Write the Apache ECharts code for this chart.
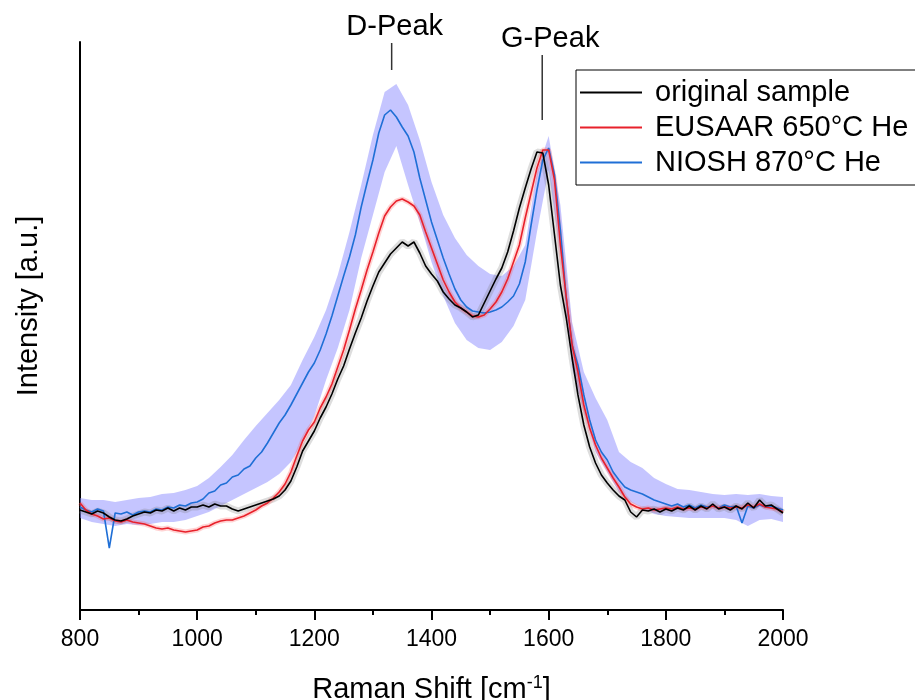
<!DOCTYPE html>
<html><head><meta charset="utf-8">
<script src="https://cdn.jsdelivr.net/npm/echarts@6/dist/echarts.min.js"></script>
<style>html,body{margin:0;padding:0;background:#fff}#c{width:915px;height:700px}</style>
</head><body><div id="c"></div>
<script>
// Raman shift sampling (cm^-1)
const ramanShift = [800,810,820,830,840,850,860,870,880,890,900,910,920,930,940,950,960,970,980,990,
1000,1010,1020,1030,1040,1050,1060,1070,1080,1090,1100,1110,1120,1130,1140,1150,1160,1170,1180,1190,
1200,1210,1220,1230,1240,1250,1260,1270,1280,1290,1300,1310,1320,1330,1340,1350,1360,1370,1380,1390,
1400,1410,1420,1430,1440,1450,1460,1470,1480,1490,1500,1510,1520,1530,1540,1550,1560,1570,1580,1590,
1600,1610,1620,1630,1640,1650,1660,1670,1680,1690,1700,1710,1720,1730,1740,1750,1760,1770,1780,1790,
1800,1810,1820,1830,1840,1850,1860,1870,1880,1890,1900,1910,1920,1930,1940,1950,1960,1970,1980,1990,2000];

// Intensities (a.u.)
const originalSample = [100,98,96,99,97,93,90,89,91,94,
96,98,97,100,99,102,99,102,100,103,
103,105,103,106,104,104,101,99,101,103,
105,107,109,111,114,120,129,143,159,169,
179,192,203,216,231,244,261,277,292,309,
324,338,347,356,362,368,364,368,357,344,
336,329,318,311,305,302,298,293,295,307,
319,331,342,358,379,402,422,441,458,457,
425,375,325,292,252,215,185,163,147,135,
127,120,114,110,98,93,100,99,101,98,
101,99,102,100,104,100,104,101,106,101,
103,100,104,101,107,102,110,104,105,101,97];

const eusaar650 = [107,100,96,94,91,92,89,88,90,88,
87,86,84,82,81,82,80,79,78,79,
80,83,84,87,89,90,90,92,94,97,
100,104,107,112,118,126,138,154,169,180,
188,202,213,226,243,260,280,301,320,340,
358,377,394,403,409,411,408,404,395,378,
362,346,330,318,308,302,298,294,293,295,
301,308,318,331,348,365,392,417,442,460,
460,430,365,313,265,238,205,182,165,152,
142,132,123,113,106,103,101,102,100,101,
102,101,103,101,102,101,103,102,104,102,
103,102,103,102,105,103,106,103,102,101,98];

const niosh870 = [103,100,98,101,99,62,97,96,98,95,
98,99,98,101,100,103,102,105,104,107,
108,111,117,119,125,127,133,135,141,144,
152,158,167,177,187,195,205,216,227,238,
247,260,276,294,314,334,353,375,403,427,
450,477,495,500,493,483,474,458,432,410,
388,370,352,336,321,310,303,299,298,297,
298,300,303,308,314,326,348,385,420,450,
462,435,380,312,265,245,215,190,170,158,
150,138,130,123,120,118,116,113,110,108,
106,104,106,103,105,102,105,103,104,102,
105,103,104,87,104,102,105,103,104,102,100];

// NIOSH spread band
const bandShift = [800,820,840,860,880,900,920,940,960,980,1000,1020,1040,1060,1080,1100,1120,1140,1160,1180,
1200,1220,1240,1260,1280,1300,1320,1340,1360,1380,1400,1420,1440,1460,1480,1500,1520,1540,1560,1580,
1600,1620,1640,1660,1680,1700,1720,1740,1760,1780,1800,1820,1840,1860,1880,1900,1920,1940,1960,1980,2000];
const nioshUpper = [112,110,110,108,110,112,113,116,117,120,
124,132,143,155,170,184,197,210,225,250,
273,300,335,378,425,475,518,526,505,470,
428,395,372,355,344,336,334,344,365,438,
474,405,288,238,212,190,158,148,142,132,
126,121,120,118,116,115,116,115,116,114,113];
const nioshLower = [92,88,86,84,86,85,86,88,88,90,
94,98,104,110,116,122,128,136,148,168,
194,230,262,300,352,395,438,464,425,388,
348,314,287,270,262,260,268,284,310,378,
440,355,242,198,158,138,118,108,102,96,
94,93,92,92,92,92,90,84,90,91,88];

const xTickValues = [800,1000,1200,1400,1600,1800,2000];
const seriesNames = ['original sample','EUSAAR 650°C He','NIOSH 870°C He'];

// peak annotations
const peakNames = ['D-Peak','G-Peak'];
const peakShift = [1332, 1589];
const peakMarkFrom = [540, 490];
const peakMarkTo = [567, 555];

const FONT = '"Liberation Sans", Arial, sans-serif';
const pairs = (xs, ys) => xs.map((x, i) => [x, ys[i]]);

const chart = echarts.init(document.getElementById('c'), null, {renderer: 'canvas'});
const option = {
  animation: false,
  backgroundColor: '#fff',
  grid: {left: 80, right: 132, top: 42, bottom: 90, containLabel: false, outerBoundsMode: 'none'},
  xAxis: {
    type: 'value', min: 800, max: 2000, interval: 200,
    name: 'Raman Shift [cm{sup|-1}]', nameLocation: 'middle', nameGap: 64,
    nameTextStyle: {fontFamily: FONT, fontSize: 29, color: '#000',
      rich: {sup: {fontFamily: FONT, fontSize: 18, verticalAlign: 'top', color: '#000', padding: [0, 0, 14, 0]}}},
    axisLine: {show: true, onZero: false, lineStyle: {color: '#000', width: 2}},
    axisTick: {show: true, inside: false, length: 10, lineStyle: {color: '#000', width: 2}},
    minorTick: {show: true, splitNumber: 2, length: 5, lineStyle: {color: '#000', width: 2}},
    axisLabel: {fontFamily: FONT, fontSize: 23, color: '#000', margin: 18,
      formatter: function (v) { return String(v); }},
    splitLine: {show: false}, minorSplitLine: {show: false}
  },
  yAxis: {
    type: 'value', min: 0, max: 568,
    name: 'Intensity [a.u.]', nameLocation: 'middle', nameGap: 37, nameRotate: 90,
    nameTextStyle: {fontFamily: FONT, fontSize: 29, color: '#000', padding: [0, 0, 0, 40]},
    axisLine: {show: true, onZero: false, lineStyle: {color: '#000', width: 2}},
    axisTick: {show: false}, axisLabel: {show: false}, splitLine: {show: false}
  },
  legend: {
    data: seriesNames, orient: 'vertical', left: 576, top: 70,
    borderColor: '#000', borderWidth: 1, padding: [8, 40, 8, 4],
    itemWidth: 62, itemHeight: 2, itemGap: 6, icon: 'rect',
    textStyle: {fontFamily: FONT, fontSize: 29, color: '#000', lineHeight: 29, padding: [0, 0, 0, 8]},
    selectedMode: false
  },
  series: [
    {
      type: 'custom', name: 'NIOSH spread', silent: true, z: 1, clip: true,
      data: [[bandShift[0], nioshLower[0]]],
      renderItem: function (params, api) {
        const pts = [];
        for (let i = 0; i < bandShift.length; i++) pts.push(api.coord([bandShift[i], nioshUpper[i]]));
        for (let i = bandShift.length - 1; i >= 0; i--) pts.push(api.coord([bandShift[i], nioshLower[i]]));
        return {type: 'polygon', shape: {points: pts}, style: {fill: 'rgba(140,140,255,0.5)', stroke: null}};
      }
    },
    {type: 'line', name: 'original spread', z: 2, silent: true, symbol: 'none',
      data: pairs(ramanShift, originalSample),
      lineStyle: {color: 'rgba(120,120,120,0.25)', width: 7}},
    {type: 'line', name: 'EUSAAR spread', z: 2, silent: true, symbol: 'none',
      data: pairs(ramanShift, eusaar650),
      lineStyle: {color: 'rgba(255,80,80,0.25)', width: 5}},
    {type: 'line', name: seriesNames[2], z: 3, symbol: 'none', data: pairs(ramanShift, niosh870),
      itemStyle: {color: '#1f6fd6'}, lineStyle: {color: '#1f6fd6', width: 1.6}},
    {type: 'line', name: seriesNames[1], z: 4, symbol: 'none', data: pairs(ramanShift, eusaar650),
      itemStyle: {color: '#e8212b'}, lineStyle: {color: '#e8212b', width: 1.6}},
    {type: 'line', name: seriesNames[0], z: 5, symbol: 'none', data: pairs(ramanShift, originalSample),
      itemStyle: {color: '#000'}, lineStyle: {color: '#000', width: 1.6}}
  ]
};
chart.setOption(option);

const labelDx = [3, 8];
const g = [];
peakNames.forEach(function (n, i) {
  const a = chart.convertToPixel({gridIndex: 0}, [peakShift[i], peakMarkFrom[i]]);
  const b = chart.convertToPixel({gridIndex: 0}, [peakShift[i], peakMarkTo[i]]);
  g.push({type: 'line', silent: true, z: 10, shape: {x1: a[0], y1: a[1], x2: b[0], y2: b[1]},
    style: {stroke: '#333', lineWidth: 1.5}});
  g.push({type: 'text', silent: true, z: 10, x: b[0] + labelDx[i], y: b[1] - 16,
    style: {text: n, fontFamily: FONT, fontSize: 29, fill: '#000',
      align: 'center', verticalAlign: 'middle', textAlign: 'center', textVerticalAlign: 'middle'}});
});
chart.setOption({graphic: g});
</script></body></html>
